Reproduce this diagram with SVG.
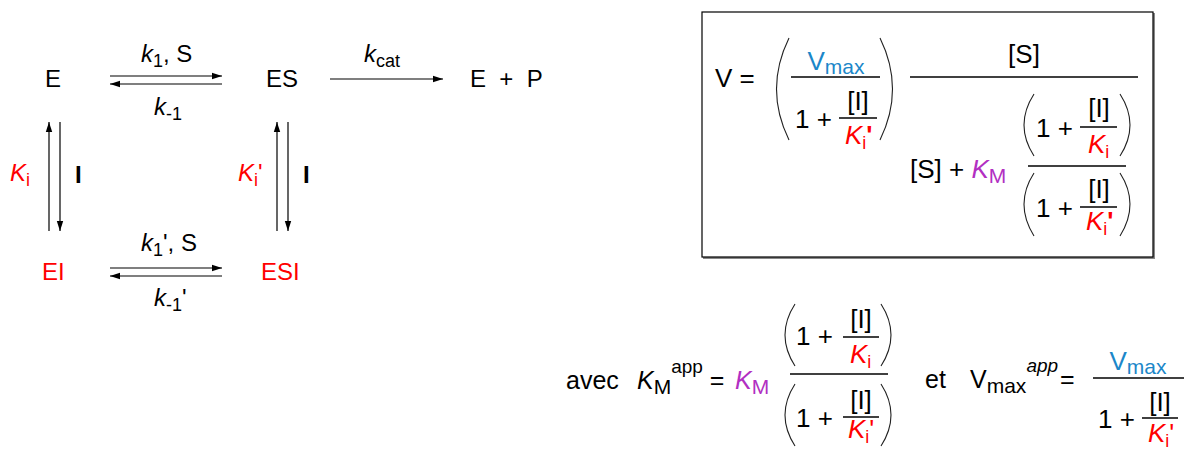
<svg xmlns="http://www.w3.org/2000/svg" width="1184" height="449" viewBox="0 0 1184 449">
<defs>
<marker id="ah" markerWidth="10" markerHeight="8" refX="10" refY="4" orient="auto" markerUnits="userSpaceOnUse">
<path d="M0,0.8 L10,4 L0,7.2 Z" fill="#000"/>
</marker>
<style>
text{font-family:"Liberation Sans",Arial,sans-serif;fill:#000}
.s{font-size:24px}
.m{font-size:26px}
.b{font-size:25px}
.sub{font-size:18px}
.sb{font-size:21px}
.it{font-style:italic}
.red{fill:#ff0000}
.blue{fill:#1b87c9}
.pur{fill:#b22fc2}
.ln{stroke:#000;stroke-width:1.2;fill:none}
.bar{stroke:#000;stroke-width:1.3}
.par{stroke:#222;stroke-width:1.1;fill:none}
</style>
</defs>
<rect width="1184" height="449" fill="#fff"/>

<g id="connectors">
<line class="ln" x1="110" y1="76" x2="222" y2="76" marker-end="url(#ah)"/>
<line class="ln" x1="222" y1="84" x2="110" y2="84" marker-end="url(#ah)"/>
<line class="ln" x1="330" y1="79" x2="443" y2="79" marker-end="url(#ah)"/>
<line class="ln" x1="110" y1="268" x2="222" y2="268" marker-end="url(#ah)"/>
<line class="ln" x1="222" y1="276" x2="110" y2="276" marker-end="url(#ah)"/>
<line class="ln" x1="49" y1="231" x2="49" y2="122" marker-end="url(#ah)"/>
<line class="ln" x1="60" y1="122" x2="60" y2="231" marker-end="url(#ah)"/>
<line class="ln" x1="277" y1="231" x2="277" y2="122" marker-end="url(#ah)"/>
<line class="ln" x1="288" y1="122" x2="288" y2="231" marker-end="url(#ah)"/>
</g>

<g id="E"><text class="s" x="45" y="87">E</text></g>
<g id="ES"><text class="s" x="266" y="87">ES</text></g>
<g id="EP"><text class="s" x="470" y="87" xml:space="preserve">E  +  P</text></g>
<g id="EI"><text class="s red" x="42" y="280">EI</text></g>
<g id="ESI"><text class="s red" x="261" y="280">ESI</text></g>

<g id="labels">
<text class="s" x="141" y="62"><tspan class="it">k</tspan><tspan class="sub" dy="5">1</tspan><tspan dy="-5">, S</tspan></text>
<text class="s" x="154" y="115"><tspan class="it">k</tspan><tspan class="sub" dy="5">-1</tspan></text>
<text class="s" x="364" y="62"><tspan class="it">k</tspan><tspan class="sub" dy="5">cat</tspan></text>
<text class="s" x="141" y="251"><tspan class="it">k</tspan><tspan class="sub" dy="5">1</tspan><tspan dy="-5">', S</tspan></text>
<text class="s" x="154" y="306"><tspan class="it">k</tspan><tspan class="sub" dy="5">-1</tspan><tspan dy="-5">'</tspan></text>
<text class="s red" x="10" y="181"><tspan class="it">K</tspan><tspan class="sub" dy="5">i</tspan></text>
<text class="s" x="75" y="183" font-weight="bold">I</text>
<text class="s red" x="238" y="181"><tspan class="it">K</tspan><tspan class="sub" dy="5">i</tspan><tspan dy="-5">'</tspan></text>
<text class="s" x="303" y="183" font-weight="bold">I</text>
</g>

<g id="box">
<line x1="1154" y1="13" x2="1154" y2="258" stroke="#888" stroke-width="2"/>
<line x1="703" y1="258" x2="1155" y2="258" stroke="#888" stroke-width="2"/>
<rect x="702" y="12" width="451" height="245" fill="none" stroke="#000" stroke-width="1.2"/>
<text class="m" x="715" y="87">V =</text>
<path class="par" d="M789,38 Q764,89 789,140"/>
<path class="par" d="M880,38 Q905,89 880,140"/>
<text class="m blue" x="836" y="70" text-anchor="middle">V<tspan class="sb" dy="4">max</tspan></text>
<line class="bar" x1="791" y1="77" x2="880" y2="77"/>
<text class="m" x="795" y="128">1 +</text>
<text class="m" x="858" y="110" text-anchor="middle">[I]</text>
<line class="bar" x1="839" y1="118" x2="877" y2="118"/>
<text class="m red" x="845" y="144"><tspan class="it">K</tspan><tspan class="sub" dy="5">i</tspan><tspan dy="-5" font-weight="bold">'</tspan></text>
<line class="bar" x1="910" y1="77" x2="1138" y2="77"/>
<text class="m" x="1024" y="63" text-anchor="middle">[S]</text>
<text class="m" x="910" y="178">[S] + <tspan class="it pur">K</tspan><tspan class="sb pur" dy="5">M</tspan></text>
<path class="par" d="M1034,94 Q1014,125 1034,156"/>
<path class="par" d="M1120,94 Q1140,125 1120,156"/>
<text class="m" x="1036" y="137">1 +</text>
<text class="m" x="1099" y="117" text-anchor="middle">[I]</text>
<line class="bar" x1="1080" y1="127" x2="1117" y2="127"/>
<text class="m red" x="1088" y="153"><tspan class="it">K</tspan><tspan class="sub" dy="5">i</tspan></text>
<line class="bar" x1="1028" y1="166" x2="1126" y2="166"/>
<path class="par" d="M1034,173 Q1014,204 1034,236"/>
<path class="par" d="M1120,173 Q1140,204 1120,236"/>
<text class="m" x="1036" y="217">1 +</text>
<text class="m" x="1099" y="198" text-anchor="middle">[I]</text>
<line class="bar" x1="1080" y1="207" x2="1117" y2="207"/>
<text class="m red" x="1086" y="230"><tspan class="it">K</tspan><tspan class="sub" dy="5">i</tspan><tspan dy="-5" font-weight="bold">'</tspan></text>
</g>

<g id="kmapp">
<text class="b" x="566" y="389" font-size="23">avec</text>
<text class="b" x="637" y="389"><tspan class="it">K</tspan><tspan class="sb" dy="5">M</tspan><tspan font-size="19" dy="-21">app</tspan><tspan dy="16"> =</tspan></text>
<text class="b pur" x="735" y="389"><tspan class="it">K</tspan><tspan class="sb" dy="5">M</tspan></text>
<line class="bar" x1="790" y1="374" x2="888" y2="374"/>
<path class="par" d="M795,304 Q775,335 795,366"/>
<path class="par" d="M881,304 Q901,335 881,366"/>
<text class="m" x="796" y="345">1 +</text>
<text class="m" x="861" y="328" text-anchor="middle">[I]</text>
<line class="bar" x1="843" y1="337" x2="879" y2="337"/>
<text class="m red" x="850" y="363"><tspan class="it">K</tspan><tspan class="sub" dy="5">i</tspan></text>
<path class="par" d="M795,384 Q775,415 795,446"/>
<path class="par" d="M881,384 Q901,415 881,446"/>
<text class="m" x="796" y="427">1 +</text>
<text class="m" x="861" y="409" text-anchor="middle">[I]</text>
<line class="bar" x1="843" y1="417" x2="879" y2="417"/>
<text class="m red" x="848" y="438"><tspan class="it">K</tspan><tspan class="sub" dy="5">i</tspan><tspan dy="-5">'</tspan></text>
</g>

<g id="vmaxapp">
<text class="b" x="925" y="388" font-size="23">et</text>
<text class="b" x="970" y="388">V<tspan class="sb" dy="5">max</tspan><tspan class="it" font-size="19" dy="-21">app</tspan><tspan dy="16" dx="2">=</tspan></text>
<line class="bar" x1="1093" y1="378" x2="1184" y2="378"/>
<text class="m blue" x="1138" y="370" text-anchor="middle">V<tspan class="sb" dy="4">max</tspan></text>
<text class="m" x="1098" y="428">1 +</text>
<text class="m" x="1160" y="411" text-anchor="middle">[I]</text>
<line class="bar" x1="1142" y1="418" x2="1178" y2="418"/>
<text class="m red" x="1148" y="442"><tspan class="it">K</tspan><tspan class="sub" dy="5">i</tspan><tspan dy="-5">'</tspan></text>
</g>
</svg>
